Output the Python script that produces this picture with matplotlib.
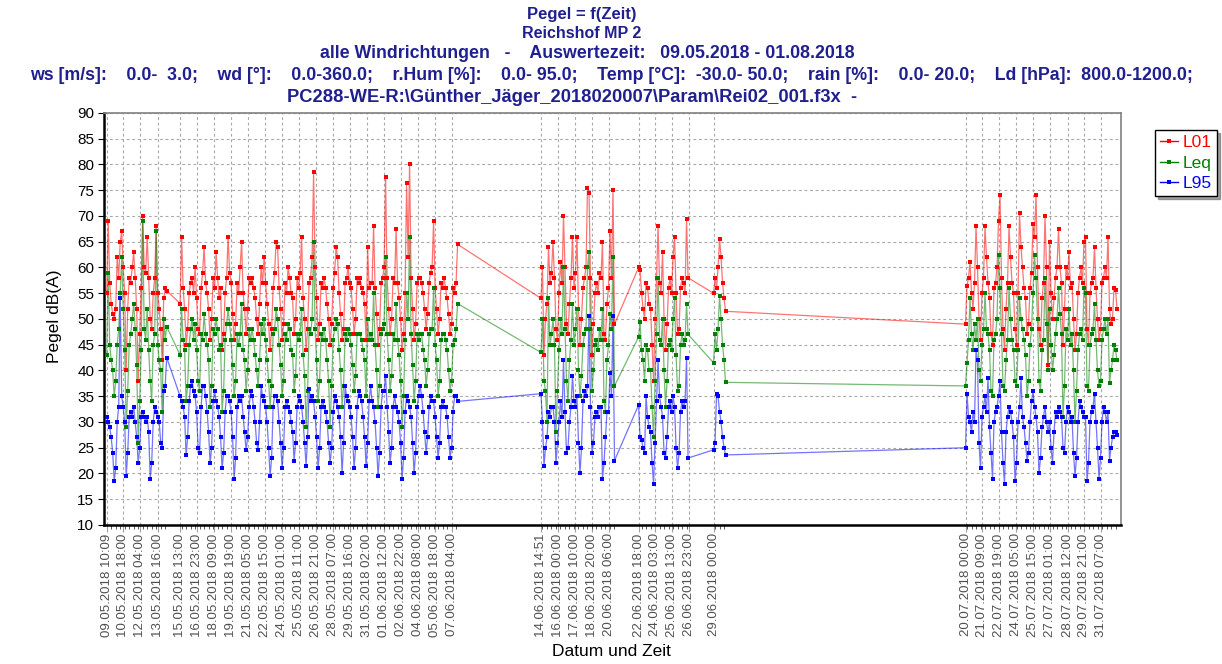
import matplotlib

matplotlib.use("Agg")

import matplotlib.pyplot as plt
import matplotlib.dates as mdates
from matplotlib.lines import Line2D
from matplotlib.ticker import FixedLocator
import numpy as np
import pandas as pd

plt.rcParams["font.family"] = ["Liberation Sans", "DejaVu Sans"]

# =====================
# DATA (3-hourly readings)
# =====================

seg_starts = ["2018-05-09 10:09", "2018-05-15 13:00", "2018-06-14 14:51",
              "2018-06-22 18:00", "2018-06-29 00:00", "2018-07-20 00:00"]

l01_segs = [
    [55, 69, 57, 53, 51, 50, 52, 62, 58, 65, 67, 60, 55, 40, 52, 58,
     57, 60, 63, 58, 52, 38, 47, 56, 70, 60, 59, 66, 58, 50, 48, 55,
     58, 68, 55, 52, 48, 42, 54, 56, 55.5],
    [53, 66, 56, 52, 45, 48, 55, 57, 58, 55, 60, 54, 48, 47, 56, 59,
     64, 57, 55, 52, 46, 50, 58, 56, 63, 58, 54, 56, 44, 47, 55, 58,
     66, 59, 57, 51, 46, 49, 57, 55, 60, 65, 55, 52, 47, 52, 58, 57,
     58, 56, 54, 50, 47, 53, 60, 57, 62, 57, 53, 49, 44, 48, 56, 59,
     65, 64, 56, 52, 46, 49, 57, 55, 60, 58, 55, 54, 47, 50, 58, 56,
     59, 66, 54, 50, 44, 48, 57, 58, 62, 78.5, 60, 54, 46, 49, 57, 56,
     58, 56, 53, 50, 45, 49, 56, 59, 64, 62, 55, 51, 46, 48, 57, 58,
     60, 57, 56, 52, 47, 50, 58, 57, 58, 56, 55, 53, 46, 64, 56, 57,
     57, 68, 56, 51, 45, 48, 57, 58, 60, 77.5, 58, 52, 47, 50, 58, 57,
     67.5, 57, 54, 50, 44, 47, 55, 76.5, 62, 80, 58, 52, 46, 49, 57, 58,
     58, 57, 55, 52, 48, 51, 57, 59, 60, 69, 56, 52, 47, 50, 57, 56,
     58, 56, 54, 51, 47, 49, 56, 55, 57, 64.5],
    [54, 60, 43, 50, 53, 64, 57, 59, 65, 58, 48, 46, 55, 61, 57, 70,
     60, 49, 47, 53, 58, 66, 56, 59, 66, 52, 45, 50, 56, 58, 60, 75.5,
     74.5, 58, 43, 49, 55, 57, 55, 59, 58, 65, 47, 46, 53, 56, 67, 58,
     75, 49],
    [60, 59.5, 55, 52, 50, 57, 56, 53, 52, 45, 38, 50, 58, 68, 57, 55,
     63, 50, 44, 49, 56, 58, 55, 62, 66, 55, 47, 48, 56, 58, 57, 55,
     69.5, 58],
    [55, 58, 56, 60, 65.5, 62, 57, 54, 51.5],
    [49, 56.5, 58, 61, 55, 52, 57, 68, 60, 50, 46, 55, 58, 68, 62, 57,
     54, 47, 45, 56, 57, 60, 69, 74, 58, 48, 44, 52, 57, 68, 62, 57,
     55, 48, 45, 55, 70.5, 64, 60, 56, 54, 47, 49, 56, 59, 68.5, 66, 74,
     60, 48, 45, 54, 57, 70, 60, 41, 65, 55, 50, 54, 58, 60, 67.5, 60,
     57, 45, 52, 60, 58, 63, 56, 57, 50, 44, 47, 55, 58, 60, 57, 65,
     66, 48, 45, 55, 57, 58, 64, 56, 50, 46, 48, 57, 58, 60, 58, 66,
     52, 49, 50, 56, 55.7, 52],
]

leq_segs = [
    [43, 59, 45, 42, 40, 35, 38, 45, 48, 55, 62, 52, 44, 29, 36, 45,
     47, 50, 53, 48, 41, 26, 34, 44, 69, 48, 46, 52, 44, 38, 34, 45,
     47, 67, 45, 42, 40, 32, 50, 46, 48.5],
    [43, 52, 46, 44, 34, 37, 45, 48, 50, 46, 49, 44, 38, 36, 47, 46,
     51, 47, 45, 42, 33, 37, 48, 47, 50, 48, 44, 45, 32, 36, 46, 49,
     52, 49, 46, 41, 35, 38, 47, 45, 47, 53, 44, 42, 36, 40, 48, 46,
     48, 46, 43, 40, 37, 42, 49, 47, 50, 46, 42, 38, 33, 37, 47, 48,
     52, 50, 45, 41, 35, 38, 47, 46, 49, 48, 44, 43, 36, 39, 47, 46,
     47, 52, 43, 39, 29, 36, 48, 47, 50, 65, 48, 42, 34, 38, 47, 46,
     48, 46, 42, 38, 29, 37, 46, 48, 50, 49, 44, 40, 33, 37, 47, 46,
     48, 47, 45, 41, 36, 39, 47, 47, 47, 46, 44, 42, 35, 50, 46, 47,
     46, 55, 45, 40, 33, 37, 47, 48, 49, 62, 47, 42, 36, 39, 47, 46,
     53, 46, 43, 38, 29, 35, 46, 55, 50, 66, 47, 41, 34, 38, 47, 46,
     47, 47, 44, 42, 37, 40, 47, 48, 48, 56, 45, 42, 35, 38, 46, 47,
     47, 46, 44, 40, 36, 38, 45, 46, 48, 53],
    [43.5, 50, 38, 36, 30, 54, 45, 47, 50, 45, 28, 36, 44, 50, 47, 60,
     48, 38, 34, 42, 46, 53, 45, 48, 52, 40, 35, 39, 45, 47, 48, 60,
     63, 48, 36, 40, 45, 46, 44, 48, 46, 52, 34, 32, 42, 45, 51, 48,
     62, 37],
    [46.5, 49.5, 44, 42, 38, 45, 44, 40, 40, 33, 27, 38, 47, 58, 46, 45,
     50, 40, 33, 38, 45, 46, 44, 50, 54, 43, 36, 37, 45, 47, 45, 46,
     53, 47],
    [41.5, 47, 44, 48, 54.5, 50, 45, 42, 37.7],
    [37, 41.5, 46, 54, 47, 44, 49, 46, 50, 40, 38, 45, 48, 55, 48, 47,
     44, 36, 35, 46, 47, 50, 62.5, 56, 47, 37, 36, 42, 46, 56, 50, 46,
     44, 38, 37, 44, 54, 50, 48, 46, 43, 35, 38, 45, 48, 55, 62.5, 58,
     50, 38, 36, 44, 46, 58, 49, 40, 52, 45, 40, 43, 47, 50, 56, 51,
     47, 31, 37, 48, 46, 52, 45, 47, 40, 30, 36, 44, 47, 48, 46, 56,
     55, 37, 36, 45, 47, 48, 53, 46, 40, 37, 38, 46, 48, 50, 47, 50,
     37.5, 40, 42, 45, 44, 42],
]

l95_segs = [
    [31, 30, 29, 27, 24, 18.5, 21, 30, 33, 54, 35, 33, 30, 19.5, 24, 31,
     32, 31, 33, 30, 27, 22, 25, 31, 32, 31, 30, 31, 28, 19, 22, 30,
     33, 32, 31, 30, 26, 25, 36, 37, 42.5],
    [35, 34, 33, 31, 23.5, 27, 34, 37, 38, 36, 35, 32, 25, 24, 33, 37,
     37, 35, 32, 28, 22, 25, 34, 36, 34, 33, 31, 27, 21, 24, 32, 35,
     35, 34, 32, 27, 19, 23, 33, 35, 34, 35, 31, 28, 24.5, 27, 33, 36,
     35, 33, 30, 26, 24.5, 30, 37, 35, 34, 33, 30, 25, 19.5, 23, 33, 35,
     35, 34, 30, 26, 21, 25, 33, 34, 33, 32, 30, 28, 22.5, 26, 33, 35,
     34, 33, 30, 26, 21.5, 27, 36.5, 34, 35, 34, 31, 27, 21, 25, 33, 34,
     33, 32, 30, 26, 22, 25, 32, 35, 34, 33, 31, 27, 20, 26, 37, 35,
     34, 33, 31, 27, 21, 25, 33, 36, 35, 34, 31, 27, 21.5, 26, 34, 37,
     34, 33, 30, 25, 19.5, 24, 33, 36, 36, 39, 33, 28, 22, 25, 33, 35,
     33, 32, 30, 26, 19, 23, 32, 35, 34, 33, 31, 26, 20, 24, 33, 35,
     37, 35, 32, 28, 24, 27, 33, 35, 34, 34, 31, 27, 23, 26, 33, 34,
     33, 33, 31, 27, 23, 25, 32, 35, 35, 34],
    [35.5, 30, 21.5, 25, 27, 32, 31, 33, 33, 30, 22, 26, 30, 34, 31, 42,
     32, 24, 25, 30, 33, 39, 34, 33, 35, 26, 20, 25, 34, 36, 35, 37,
     50.5, 33, 24, 26, 31, 32, 31, 33, 33, 19, 22, 27, 32, 32, 39.5, 35,
     50.5, 22.5],
    [33.3, 27, 26.5, 25, 24, 35, 31, 29, 28, 22, 18, 26, 34, 42, 35, 33,
     31, 24, 23, 27, 33, 34, 32, 35, 33, 25, 21, 24, 32, 34, 33, 34,
     42.5, 23],
    [24.6, 26, 35.5, 35, 32, 30, 27, 25, 23.6],
    [25, 35.5, 31, 30, 28, 32, 30, 44, 42, 26, 21, 31, 33, 35, 32, 38.5,
     29, 24, 19, 30, 32, 33, 35, 38, 28, 22, 18, 28, 31, 33, 32, 30,
     27, 18.5, 22, 30, 33, 38.5, 31, 29, 26, 22.5, 24, 30, 34, 36, 33, 31,
     28, 20, 23, 29, 31, 33, 30, 28, 30, 25, 22, 28, 32, 31, 33, 32,
     31, 25, 24, 30, 33, 32, 30, 31, 24, 19.5, 23, 30, 34, 33, 32, 31,
     31, 18.5, 22, 30, 32, 33, 35.5, 30, 25, 19, 23, 30, 33, 32, 30, 32,
     22.5, 25, 27, 28, 28, 27.5],
]

series_names = ["L01", "Leq", "L95"]
series_colors = ["#ff0000", "#008000", "#0000ff"]

tick_labels = [
    "09.05.2018 10:09", "10.05.2018 18:00", "12.05.2018 04:00", "13.05.2018 16:00",
    "15.05.2018 13:00", "16.05.2018 23:00", "18.05.2018 09:00", "19.05.2018 19:00",
    "21.05.2018 05:00", "22.05.2018 15:00", "24.05.2018 01:00", "25.05.2018 11:00",
    "26.05.2018 21:00", "28.05.2018 07:00", "29.05.2018 16:00", "31.05.2018 02:00",
    "01.06.2018 12:00", "02.06.2018 22:00", "04.06.2018 08:00", "05.06.2018 18:00",
    "07.06.2018 04:00", "14.06.2018 14:51", "16.06.2018 00:00", "17.06.2018 10:00",
    "18.06.2018 20:00", "20.06.2018 06:00", "22.06.2018 18:00", "24.06.2018 03:00",
    "25.06.2018 13:00", "26.06.2018 23:00", "29.06.2018 00:00", "20.07.2018 00:00",
    "21.07.2018 09:00", "22.07.2018 19:00", "24.07.2018 05:00", "25.07.2018 15:00",
    "27.07.2018 01:00", "28.07.2018 12:00", "29.07.2018 21:00", "31.07.2018 07:00",
]

title_lines = [
    "Pegel = f(Zeit)",
    "Reichshof MP 2",
    "alle Windrichtungen   -    Auswertezeit:   09.05.2018 - 01.08.2018",
    "ws [m/s]:    0.0-  3.0;    wd [°]:    0.0-360.0;    r.Hum [%]:    0.0- 95.0;    "
    "Temp [°C]:  -30.0- 50.0;    rain [%]:    0.0- 20.0;    Ld [hPa]:  800.0-1200.0;",
    "PC288-WE-R:\\Günther_Jäger_2018020007\\Param\\Rei02_001.f3x  -",
]

# =====================
# BUILD TIME AXIS
# =====================

times = pd.DatetimeIndex(np.concatenate([
    pd.date_range(s, periods=len(v), freq="3h").values
    for s, v in zip(seg_starts, l01_segs)
]))
values = [np.concatenate(segs) for segs in (l01_segs, leq_segs, l95_segs)]

# =====================
# PLOT
# =====================

fig = plt.figure(figsize=(12.22, 6.64), dpi=100)
ax = fig.add_axes([104 / 1222, 139 / 664, 1017 / 1222, 412 / 664])

xnum = mdates.date2num(times.to_pydatetime())
for name, col, v in zip(series_names, series_colors, values):
    ax.plot(xnum, v, color=col, lw=0.9, alpha=0.55, zorder=2)
    ax.plot(xnum, v, ls="none", marker="s", ms=2.8, mew=0, color=col, zorder=3)

ax.set_xlim(mdates.date2num(pd.Timestamp("2018-05-09 04:45")),
            mdates.date2num(pd.Timestamp("2018-08-01 23:00")))
ax.set_ylim(10, 90)
ax.set_yticks(np.arange(10, 91, 5))

tick_pos = pd.to_datetime(tick_labels, format="%d.%m.%Y %H:%M")
ax.set_xticks(mdates.date2num(tick_pos.to_pydatetime()))
ax.set_xticklabels(tick_labels, rotation=90)
ax.xaxis.set_minor_locator(FixedLocator(xnum[::3]))

ax.grid(True, which="major", color="#a8a8a8", ls=(0, (2.5, 2.5)), lw=0.8)
ax.tick_params(axis="x", which="major", length=5, color="#a0a0a0",
               labelsize=9.5, labelcolor="#505050", pad=1)
ax.tick_params(axis="x", which="minor", length=3, color="#404040")
ax.tick_params(axis="y", which="major", length=4, labelsize=11, pad=3)

for side in ["left", "bottom"]:
    ax.spines[side].set_linewidth(1.8)
    ax.spines[side].set_color("black")
for side in ["top", "right"]:
    ax.spines[side].set_linewidth(1.2)
    ax.spines[side].set_color("#808080")

fig.text(55 / 1222, 1 - 316 / 664, "Pegel dB(A)", rotation=90,
         fontsize=12.5, ha="center", va="center")
fig.text(611 / 1222, 1 - 651 / 664, "Datum und Zeit",
         fontsize=12.5, ha="center", va="center")

title_x = [582, 582, 587, 611, 572]
title_y = [14, 33, 54, 76, 97]
title_size = [12, 11.5, 12.8, 12.8, 13.2]
for txt, tx, ty, fs in zip(title_lines, title_x, title_y, title_size):
    fig.text(tx / 1222, 1 - ty / 664, txt, ha="center", va="center",
             fontsize=fs, fontweight="bold", color="#1f1f8f")

handles = [Line2D([], [], color=c, lw=1, marker="s", ms=3, mew=0)
           for c in series_colors]
leg = fig.legend(handles, series_names, loc="upper left",
                 bbox_to_anchor=(1155 / 1222, 1 - 130 / 664),
                 fontsize=12.5, frameon=True, fancybox=False, shadow=True,
                 edgecolor="black", handlelength=1.0, handletextpad=0.3,
                 borderpad=0.3, labelspacing=0.3, borderaxespad=0)
for t, c in zip(leg.get_texts(), series_colors):
    t.set_color(c)

plt.savefig("out.png", dpi=100)
plt.close()
